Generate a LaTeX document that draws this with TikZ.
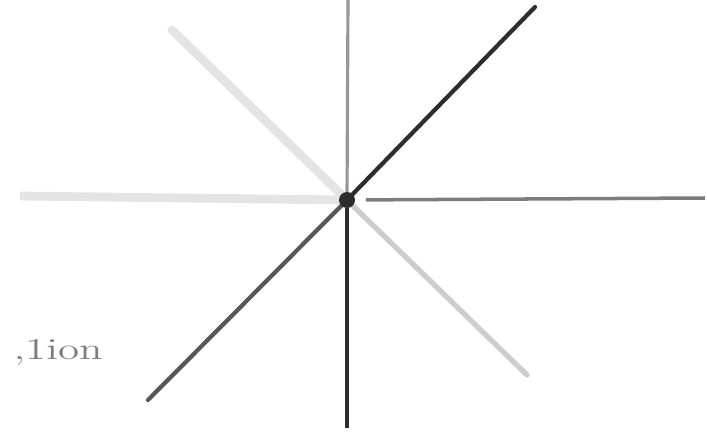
\documentclass[tikz,border=0pt]{standalone}
\usepackage{tikz}
\usetikzlibrary{arrows.meta, positioning}
\usepackage{xcolor}
\definecolor{inkdark}{RGB}{45,45,45}
\definecolor{inkmid}{RGB}{125,125,125}
\definecolor{inklight}{RGB}{205,205,205}
\definecolor{inkfaint}{RGB}{228,228,228}

\begin{document}
\begin{tikzpicture}[x=0.02cm, y=-0.02cm]
  \useasboundingbox (0,0) rectangle (707,436);
  \node[circle, fill=inkdark, inner sep=0pt, minimum size=0.3cm] (hub) at (347,200) {};
  \coordinate (ne) at (535,7);
  \coordinate (sw) at (148,400);
  \coordinate (nw) at (172,30);
  \coordinate (se) at (527,375);
  \coordinate (north) at (348,0);
  \coordinate (south) at (347,428);
  \coordinate (west) at (20,196);
  \coordinate (east) at (705,198);
  \draw[line width=5pt, inkfaint, line cap=round] (nw) -- (hub);
  \draw[line width=3pt, inklight, line cap=round] (hub) -- (se);
  \draw[line width=5pt, inkfaint] (west) -- (hub);
  \draw[line width=2pt, inkmid, shorten <=0.22cm] (hub) -- (east);
  \draw[line width=1.8pt, inkmid!80] (north) -- (hub);
  \draw[line width=1.8pt, inkdark] (hub) -- (south);
  \draw[line width=2.4pt, inkdark, line cap=round] (hub) -- (ne);
  \draw[line width=2.4pt, inkdark!80, line cap=round] (sw) -- (hub);
  \fill[inkdark] (hub) circle[radius=8];
  \node[text=inkmid, font=\Large, xscale=1.7, yscale=1.2] (caption) at (58,352) {,1ion};
\end{tikzpicture}
\end{document}
